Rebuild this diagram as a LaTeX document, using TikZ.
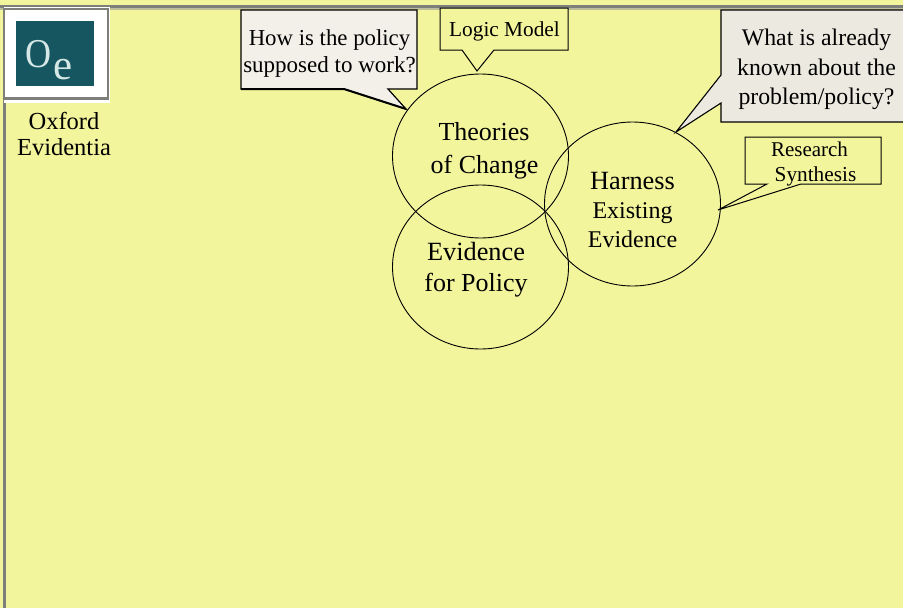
\documentclass[tikz,border=0pt]{standalone}
\usepackage{fontspec}
\usetikzlibrary{shapes.geometric}
\setmainfont{Liberation Serif}
\definecolor{bgY}{HTML}{F3F59D}
\definecolor{barG}{HTML}{7E7E7A}
\definecolor{dotG}{HTML}{BDBE9A}
\definecolor{noteA}{HTML}{F2F0E8}
\definecolor{noteB}{HTML}{ECEAE0}
\definecolor{teal}{HTML}{155660}
\definecolor{logoT}{HTML}{D5E8E6}
\newcommand{\fs}[1]{\fontsize{#1}{#1}\selectfont}
\tikzset{
  x=1pt,y=-1pt,
  ring/.style={ellipse,draw=black,line width=0.9pt,minimum width=176pt,minimum height=164pt,inner sep=0pt},
  lbl/.style={inner sep=0pt,anchor=base,text=black,yshift=-0.8pt},
  calloutline/.style={draw=black,line join=miter},
}
\begin{document}
\begin{tikzpicture}
\useasboundingbox (0,0) rectangle (903,608);
\fill[bgY] (0,0) rectangle (903,608);
% frame bars
\fill[barG] (0,4.5) rectangle (903,8);
\fill[dotG] (0,8) rectangle (903,9.5);
\fill[barG] (3,5) rectangle (6.2,608);
% logo
\fill[white] (4,7) rectangle (110,103);
\draw[barG,line width=2.5pt] (4,9) -- (108,9) -- (108,98.5) -- (4,98.5);
\draw[barG,line width=2pt] (4,9) -- (4,98.5);
\fill[teal] (16,21) rectangle (94,86);
\node[lbl,text=logoT,xscale=.88] (oeO) at (39,66.5) {\fs{41}O};
\node[lbl,text=logoT] (oeE) at (63,79) {\fs{43}e};
\node[lbl] (oxford) at (64,128.3) {\fs{24.5}Oxford};
\node[lbl] (evidentia) at (64,155) {\fs{24.5}Evidentia};
% circles
\node[ring] (theories) at (480.5,156) {};
\node[ring] (policy) at (480.5,267) {};
\node[ring] (harness) at (632.5,204) {};
% circle labels
\node[lbl] (t1) at (484,140) {\fs{26}Theories};
\node[lbl] (t2) at (484.5,172.7) {\fs{26}of Change};
\node[lbl] (e1) at (476,260) {\fs{26.3}Evidence};
\node[lbl] (e2) at (476,291) {\fs{26}for Policy};
\node[lbl] (h1) at (632.5,188.3) {\fs{26.3}Harness};
\node[lbl] (h2) at (632.5,217.7) {\fs{24}Existing};
\node[lbl] (h3) at (632.5,246.7) {\fs{24}Evidence};
% callouts
\draw[calloutline,fill=noteA,line width=1.2pt]
  (241,10) -- (417,10) -- (417,89) -- (388,89) -- (406,109) -- (344,89) -- (241,89) -- cycle;
\draw[black,line width=2pt] (241,89) -- (344,89) -- (406,109);
\node[lbl] (how1) at (329.5,45) {\fs{22.8}How is the policy};
\node[lbl] (how2) at (329.5,71.7) {\fs{23}supposed to work?};
\draw[calloutline,fill=bgY,line width=1pt]
  (440,8) -- (568,8) -- (568,50) -- (494,50) -- (477,71) -- (462,50) -- (440,50) -- cycle;
\node[lbl] (logic) at (504.5,36) {\fs{21.3}Logic Model};
\draw[calloutline,fill=noteB,line width=1.1pt]
  (904,10) -- (721,10) -- (721,75) -- (676,132) -- (721,103) -- (721,122) -- (904,122);
\node[lbl] (what1) at (816.5,45) {\fs{23.8}What is already};
\node[lbl] (what2) at (816.5,74.3) {\fs{23.8}known about the};
\node[lbl] (what3) at (816.5,104) {\fs{23.8}problem/policy?};
\draw[calloutline,fill=bgY,line width=1pt]
  (745,137) -- (881,137) -- (881,184) -- (801,184) -- (718,210) -- (767,184) -- (745,184) -- cycle;
\node[lbl] (res1) at (809.5,155.7) {\fs{21}Research};
\node[lbl] (res2) at (815.5,181) {\fs{21.3}Synthesis};
\end{tikzpicture}
\end{document}
